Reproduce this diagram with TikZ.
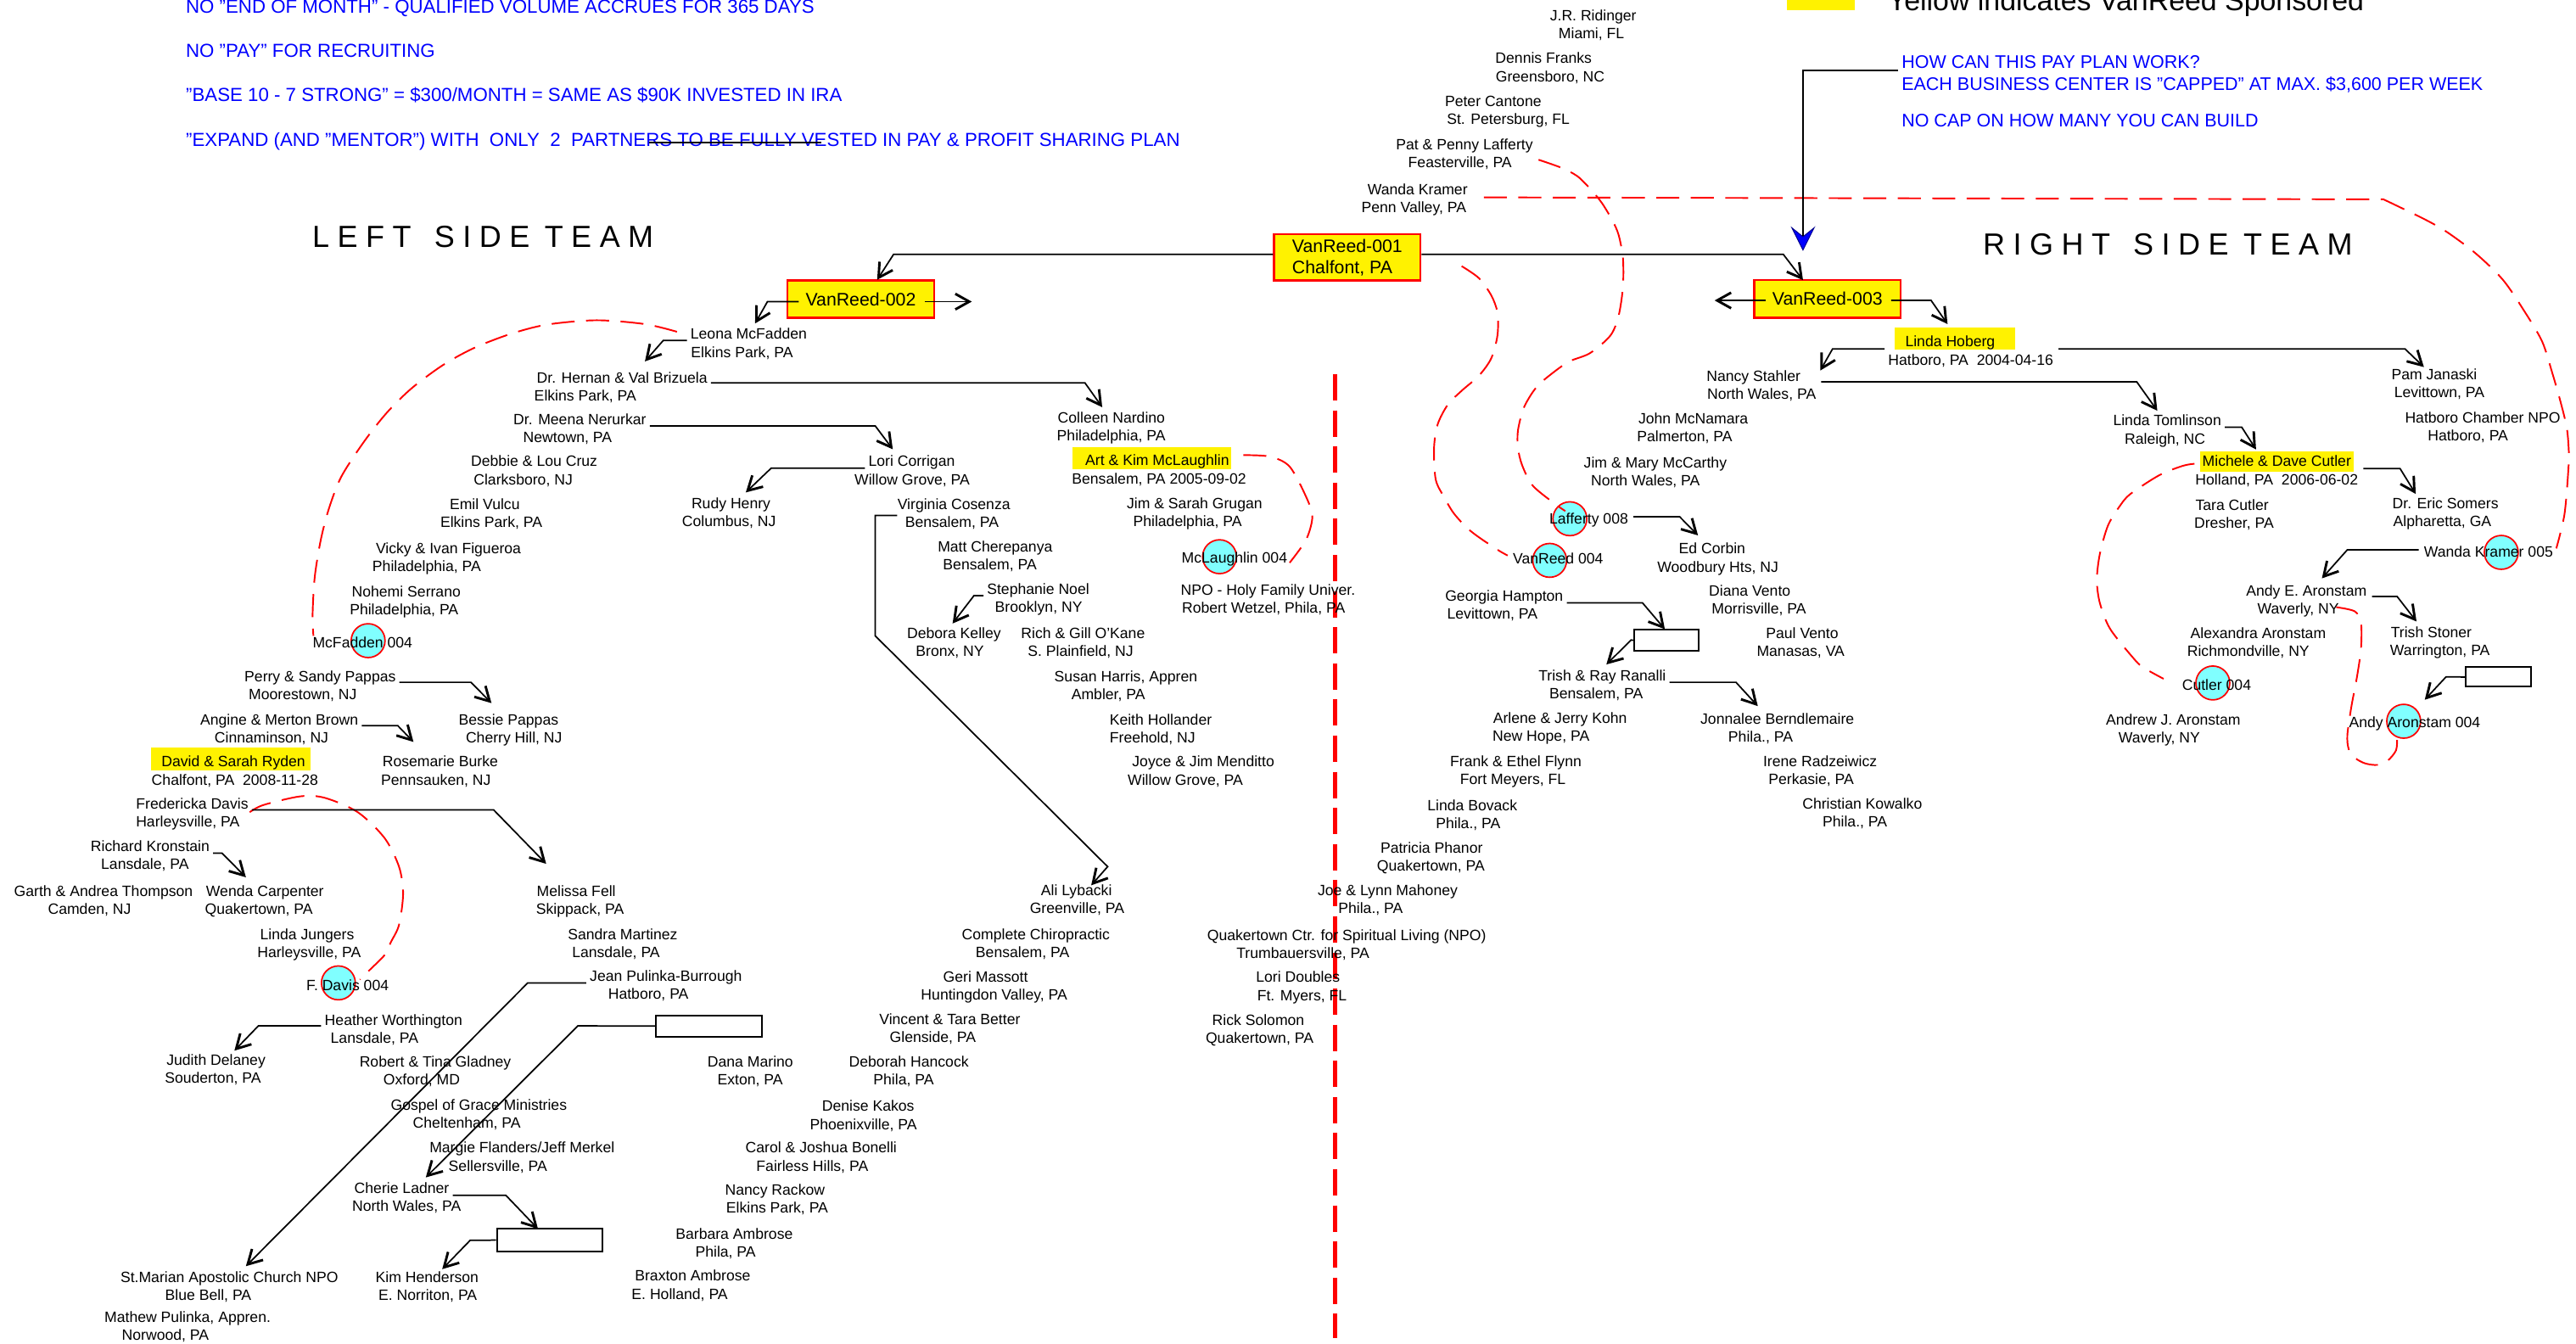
\documentclass[tikz,border=0pt]{standalone}
\usepackage{fontspec}
\setmainfont{Liberation Sans}
\usetikzlibrary{arrows.meta,calc}
\definecolor{cy}{RGB}{128,255,255}
\pgfmathdeclarefunction{yc}{1}{%
  \begingroup
  \pgfmathparse{(#1<272.7) ? (#1*1.01386) : ((#1<543.9) ? (#1+(#1-272.7)*0.01386) : (#1+(#1-543.9)*0.01386))}%
  \pgfmathsmuggle\pgfmathresult
  \endgroup}
\newcommand\persn[6]{\node[txt] (#1) at (#2,{yc(#4)}) {#5};\node[txt] (#1b) at (#3,{yc(#4)+10.95}) {#6};}
\newcommand\tsp{\kern4.9pt}
\begin{document}
\begin{tikzpicture}[x=1pt,y=-1pt,
 txt/.style={anchor=base, inner sep=0pt, font=\fontsize{9.1}{10}\selectfont},
 blu/.style={anchor=base west, inner sep=0pt, text=blue, font=\fontsize{11.5}{12}\selectfont},
 bluR/.style={anchor=base west, inner sep=0pt, text=blue, font=\fontsize{11.1}{12}\selectfont},
 ttl/.style={anchor=base west, inner sep=0pt, font=\fontsize{18.6}{20}\selectfont},
 arr/.style={line width=0.9pt, -{Straight Barb[length=8.5pt,width=9.5pt,line width=1.5pt]}},
 barr/.style={line width=0.9pt, -{Stealth[length=15pt,width=15pt,inset=6pt,fill=blue,color=blue!55!black,line width=0.5pt]}},
 rdash/.style={red, line width=1pt, dash pattern=on 14pt off 7pt},
 vrbox/.style={draw=red, fill=yellow, line width=1.2pt, inner sep=0pt, font=\fontsize{11}{13.1}\selectfont},
 ebox/.style={draw, line width=1pt, inner sep=0pt, fill=white},
 dot/.style={circle, draw=red, fill=cy, line width=0.9pt, minimum size=20.6pt, inner sep=0pt}]
\useasboundingbox (0,0) rectangle (1568.2,817.7);

% ---------- highlights ----------
\fill[yellow] (92.1,{yc(452.6)}) rectangle (189.3,{yc(466.4)});
\fill[yellow] (653,{yc(268.6)}) rectangle (749.4,{yc(285.6)});
\fill[yellow] (1153.2,{yc(196.8)}) rectangle (1227,{yc(210.1)});
\fill[yellow] (1339.1,{yc(274.8)}) rectangle (1432.8,{yc(287)});
\fill[yellow] (1088,-5) rectangle (1129,{yc(6)});

% ---------- circles ----------
\node[dot] (cmcf) at (224.1,{yc(388.4)}) {};
\node[dot] (cdavis) at (206,{yc(597.6)}) {};
\node[dot] (cmcl) at (742.4,{yc(338)}) {};
\node[dot] (claf) at (955.7,{yc(315.2)}) {};
\node[dot] (cvr) at (943.4,{yc(340.2)}) {};
\node[dot] (ckr) at (1522.7,{yc(335.4)}) {};
\node[dot] (ccut) at (1347.1,{yc(413.8)}) {};
\node[dot] (caron) at (1463.3,{yc(436.8)}) {};

% ---------- red dashed lines ----------
\draw[red, line width=2.5pt, dash pattern=on 16pt off 6pt] (812.6,{yc(224.7)}) -- (812.6,{yc(811)});
\draw[rdash] plot[smooth] coordinates {(412.1,{yc(199.2)}) (392.6,{yc(194.6)}) (363.1,{yc(192.3)}) (333,{yc(194.9)}) (310.5,{yc(200.6)}) (288,{yc(209.2)}) (269.2,{yc(219.5)}) (250.4,{yc(233.3)}) (235.4,{yc(247.9)}) (221.6,{yc(265.2)}) (207.8,{yc(289.9)}) (200.3,{yc(308.9)}) (195.3,{yc(327.8)}) (191.6,{yc(350.2)}) (190.3,{yc(372.6)}) (190.8,{yc(385.5)})};
\draw[rdash] plot[smooth] coordinates {(152,{yc(491.4)}) (160.3,{yc(487.1)}) (182.8,{yc(481.9)}) (197.8,{yc(482.8)}) (217.8,{yc(491.4)}) (234.1,{yc(506.9)}) (242.9,{yc(524.1)}) (245.4,{yc(543.9)}) (242.9,{yc(562.8)}) (237.9,{yc(573.2)}) (234.1,{yc(580.9)}) (225.4,{yc(589.5)}) (219.1,{yc(595.6)})};
\draw[rdash] plot[smooth] coordinates {(756.9,{yc(277)}) (773.2,{yc(277.9)}) (785.1,{yc(283.9)}) (795.1,{yc(302)}) (798.9,{yc(314)}) (795.1,{yc(327.8)}) (785.1,{yc(341.6)})};
\draw[rdash] (903.3,{yc(118.5)}) -- (1451,{yc(119.7)}) plot[smooth] coordinates {(1451,{yc(119.7)}) (1476.1,{yc(131.7)}) (1489.9,{yc(139.5)}) (1507.4,{yc(152.4)}) (1523.6,{yc(167.9)}) (1536.2,{yc(186)}) (1547.5,{yc(204.9)}) (1553.7,{yc(223.8)}) (1558.7,{yc(241)}) (1562.5,{yc(256.5)}) (1563.7,{yc(272.7)}) (1563.7,{yc(283)}) (1561.2,{yc(312.3)}) (1556.2,{yc(333)})};
\draw[rdash] plot[smooth] coordinates {(936.6,{yc(95.9)}) (950.4,{yc(100.7)}) (960.4,{yc(105.9)}) (969.1,{yc(114.5)}) (975.4,{yc(122.2)}) (981.7,{yc(132.6)}) (985.4,{yc(141.2)}) (988,{yc(155)}) (988,{yc(172.2)}) (985.4,{yc(189.4)}) (980.4,{yc(201.4)}) (968,{yc(212)}) (955.4,{yc(217)}) (945.4,{yc(223.8)}) (935.4,{yc(232.4)}) (927.8,{yc(244.5)}) (924.1,{yc(258.3)}) (924.1,{yc(272.7)}) (926.6,{yc(283)}) (932.9,{yc(295.1)}) (945.4,{yc(305.4)}) (952.9,{yc(310.6)})};
\draw[rdash] plot[smooth] coordinates {(889.8,{yc(159.8)}) (900.3,{yc(167)}) (907.8,{yc(177.3)}) (911.6,{yc(187.7)}) (911.6,{yc(201.4)}) (907.8,{yc(215.2)}) (900.3,{yc(225.6)}) (890.3,{yc(234.2)}) (881.5,{yc(242.8)}) (875.2,{yc(254.8)}) (873,{yc(272.7)}) (874,{yc(291.6)}) (879,{yc(302)}) (885.3,{yc(312.3)}) (895.3,{yc(322.6)}) (910.3,{yc(333)}) (917.8,{yc(337.3)})};
\draw[rdash] plot[smooth] coordinates {(1335.9,{yc(282.2)}) (1328.9,{yc(283.4)}) (1314.6,{yc(289)}) (1297.1,{yc(300.2)}) (1290.8,{yc(307.1)}) (1283.3,{yc(319.2)}) (1278.3,{yc(336.4)}) (1276.5,{yc(351.9)}) (1278.3,{yc(365.7)}) (1284.5,{yc(381.2)}) (1298.3,{yc(398.4)}) (1304.6,{yc(404.4)}) (1317.1,{yc(411.3)})};
\draw[rdash] plot[smooth] coordinates {(1422.2,{yc(368.3)}) (1433.5,{yc(370.8)}) (1437.3,{yc(377.7)}) (1437.3,{yc(393.2)}) (1434.8,{yc(410.4)}) (1431.5,{yc(427.7)}) (1429,{yc(444.9)}) (1429.8,{yc(453.5)}) (1433.5,{yc(458.7)}) (1439.8,{yc(462.1)}) (1447.3,{yc(463)}) (1453.6,{yc(460.4)}) (1458.6,{yc(454.3)}) (1459.3,{yc(447.5)})};

% ---------- header texts ----------
\node[blu] (b1) at (113,{yc(7.9)}) {NO "END OF MONTH" - QUALIFIED VOLUME ACCRUES FOR 365 DAYS};
\node[blu] (b2) at (113,{yc(34.4)}) {NO "PAY" FOR RECRUITING};
\node[blu] (b3) at (113,{yc(61)}) {"BASE 10 - 7 STRONG" = \$300/MONTH = SAME AS \$90K INVESTED IN IRA};
\node[blu] (b4) at (113,{yc(87.8)}) {"EXPAND (AND "MENTOR") WITH~ ONLY~ 2~ PARTNERS TO BE FULLY VESTED IN PAY \& PROFIT SHARING PLAN};
\draw[line width=0.9pt] (395,{yc(85.6)}) -- (500,{yc(85.6)});
\node[bluR] (how) at (1157.5,{yc(40.8)}) {HOW CAN THIS PAY PLAN WORK?};
\node[bluR] (cap) at (1157.5,{yc(54.2)}) {EACH BUSINESS CENTER IS "CAPPED" AT MAX. \$3,600 PER WEEK};
\node[bluR] (nocap) at (1157.5,{yc(76.3)}) {NO CAP ON HOW MANY YOU CAN BUILD};
\node[anchor=base west, inner sep=0pt, font=\fontsize{17.5}{19}\selectfont] (legend) at (1149,{yc(6.5)}) {Yellow indicates VanReed Sponsored};
\node[ttl] (lefttitle) at (190,{yc(148.4)}) {L\tsp E\tsp F\tsp T\kern14pt S\tsp I\tsp D\tsp E\kern9pt T\tsp E\tsp A\tsp M};
\node[ttl] (righttitle) at (1207,{yc(152.9)}) {R\tsp I\tsp G\tsp H\tsp T\kern14pt S\tsp I\tsp D\tsp E\kern9pt T\tsp E\tsp A\tsp M};

% ---------- main boxes ----------
\node[vrbox, minimum width=89.2pt, minimum height=28.1pt, align=left] (vr1) at (820.2,{yc(154.55)}) {VanReed-001\\Chalfont, PA};
\node[vrbox, minimum width=89.2pt, minimum height=22.7pt] (vr2) at (524,{yc(179.6)}) {VanReed-002};
\node[vrbox, minimum width=89pt, minimum height=22.9pt] (vr3) at (1112.5,{yc(179.5)}) {VanReed-003};

% ---------- empty boxes ----------
\node[ebox, minimum width=39.5pt, minimum height=12.6pt] (box1) at (1014.45,{yc(388.2)}) {};
\node[ebox, minimum width=64.3pt, minimum height=13.7pt] (box2) at (334.65,{yc(752.05)}) {};
\node[ebox, minimum width=64.6pt, minimum height=13.1pt] (box3) at (431.7,{yc(623.55)}) {};
\node[ebox, minimum width=39.6pt, minimum height=11.9pt] (box4) at (1520.9,{yc(410.25)}) {};

% ---------- people ----------
\persn{leona}{455.8}{451.7}{203.7}{Leona McFadden}{Elkins Park, PA}
\persn{hernan}{378.7}{356.3}{230}{Dr. Hernan \& Val Brizuela}{Elkins Park, PA}
\persn{meena}{353}{345.5}{254.8}{Dr. Meena Nerurkar}{Newtown, PA}
\persn{debbie}{325.2}{318.5}{283.9}{Debbie \& Lou Cruz}{Clarksboro, NJ}
\persn{emil}{295.1}{299.1}{309.7}{Emil Vulcu}{Elkins Park, PA}
\persn{vicky}{273}{259.8}{336}{Vicky \& Ivan Figueroa}{Philadelphia, PA}
\persn{nohemi}{247.3}{246}{361.9}{Nohemi Serrano}{Philadelphia, PA}
\persn{perry}{194.9}{184.3}{413}{Perry \& Sandy Pappas}{Moorestown, NJ}
\persn{bessie}{309.6}{312.9}{438.9}{Bessie Pappas}{Cherry Hill, NJ}
\persn{angine}{170}{165.3}{438.9}{Angine \& Merton Brown}{Cinnaminson, NJ}
\persn{rosemarie}{268}{265.4}{464.2}{Rosemarie Burke}{Pennsauken, NJ}
\persn{ryden}{142.1}{143}{464.2}{David \& Sarah Ryden}{Chalfont, PA~ 2008-11-28}
\persn{fredericka}{117}{114.3}{489.3}{Fredericka Davis}{Harleysville, PA}
\persn{richard}{91.4}{88.3}{515.1}{Richard Kronstain}{Lansdale, PA}
\persn{garth}{63}{54.5}{545.5}{Garth \& Andrea Thompson}{Camden, NJ}
\persn{wenda}{161.3}{157.6}{545.5}{Wenda Carpenter}{Quakertown, PA}
\persn{melissa}{350.8}{353.1}{545.5}{Melissa Fell}{Skippack, PA}
\persn{jungers}{187}{188.2}{571.5}{Linda Jungers}{Harleysville, PA}
\persn{heather}{239.6}{228}{623.1}{Heather Worthington}{Lansdale, PA}
\persn{judith}{131.5}{129.6}{647.2}{Judith Delaney}{Souderton, PA}
\persn{gladney}{265}{256.7}{648.1}{Robert \& Tina Gladney}{Oxford, MD}
\persn{gospel}{291.5}{284.2}{674.2}{Gospel of Grace Ministries}{Cheltenham, PA}
\persn{margie}{317.8}{303.1}{699.7}{Margie Flanders/Jeff Merkel}{Sellersville, PA}
\persn{cherie}{244.6}{247.5}{723.8}{Cherie Ladner}{North Wales, PA}
\persn{kim}{260}{260.4}{777.5}{Kim Henderson}{E. Norriton, PA}
\persn{marian}{139.6}{126.8}{777.5}{St.Marian Apostolic Church NPO}{Blue Bell, PA}
\persn{mathew}{114.2}{100.7}{801.3}{Mathew Pulinka, Appren.}{Norwood, PA}
\persn{sandra}{379.1}{375}{571.5}{Sandra Martinez}{Lansdale, PA}
\persn{jean}{405.4}{394.7}{596.4}{Jean Pulinka-Burrough}{Hatboro, PA}
\persn{loric}{555}{555.3}{283.9}{Lori Corrigan}{Willow Grove, PA}
\persn{rudy}{445}{443.8}{308.9}{Rudy Henry}{Columbus, NJ}
\persn{virginia}{580.7}{579.5}{309.7}{Virginia Cosenza}{Bensalem, PA}
\persn{matt}{605.8}{602.6}{335}{Matt Cherepanya}{Bensalem, PA}
\persn{stephanie}{632}{632.3}{360.5}{Stephanie Noel}{Brooklyn, NY}
\persn{debora}{580.8}{578.3}{387.2}{Debora Kelley}{Bronx, NY}
\persn{okane}{659.3}{657.8}{387.2}{Rich \& Gill O'Kane}{S. Plainfield, NJ}
\persn{susan}{685.4}{674.7}{413}{Susan Harris, Appren}{Ambler, PA}
\persn{keith}{706.6}{701.6}{438.9}{Keith Hollander}{Freehold, NJ}
\persn{joyce}{732.5}{721.6}{464.2}{Joyce \& Jim Menditto}{Willow Grove, PA}
\persn{colleen}{676.6}{676.5}{254}{Colleen Nardino}{Philadelphia, PA}
\persn{artkim}{704.5}{705.6}{283.4}{Art \& Kim McLaughlin}{Bensalem, PA 2005-09-02}
\persn{grugan}{727.2}{722.9}{309.2}{Jim \& Sarah Grugan}{Philadelphia, PA}
\persn{npo}{771.9}{769.2}{360.9}{NPO - Holy Family Univer.}{Robert Wetzel, Phila, PA}
\persn{ali}{655.3}{655.7}{545.3}{Ali Lybacki}{Greenville, PA}
\persn{chiro}{630.6}{622.5}{571.5}{Complete Chiropractic}{Bensalem, PA}
\persn{geri}{600}{605.2}{596.9}{Geri Massott}{Huntingdon Valley, PA}
\persn{vincent}{578.2}{567.9}{622.6}{Vincent \& Tara Better}{Glenside, PA}
\persn{dana}{456.8}{456.7}{648.1}{Dana Marino}{Exton, PA}
\persn{deborah}{553.3}{550.1}{648.1}{Deborah Hancock}{Phila, PA}
\persn{denise}{528.5}{525.6}{674.8}{Denise Kakos}{Phoenixville, PA}
\persn{carol}{499.9}{494.5}{699.7}{Carol \& Joshua Bonelli}{Fairless Hills, PA}
\persn{nancyr}{471.8}{473.1}{725}{Nancy Rackow}{Elkins Park, PA}
\persn{barbara}{447}{441.7}{751.4}{Barbara Ambrose}{Phila, PA}
\persn{braxton}{421.7}{413.8}{776.7}{Braxton Ambrose}{E. Holland, PA}
\persn{qctr}{819.8}{793.2}{572.3}{Quakertown Ctr. for Spiritual Living (NPO)}{Trumbauersville, PA}
\persn{lorid}{790.2}{792.6}{597.3}{Lori Doubles}{Ft. Myers, FL}
\persn{rick}{766}{766.8}{623.1}{Rick Solomon}{Quakertown, PA}
\persn{joe}{844.8}{834.4}{545.3}{Joe \& Lynn Mahoney}{Phila., PA}
\persn{patricia}{871.5}{871.1}{515.8}{Patricia Phanor}{Quakertown, PA}
\persn{lindab}{896.3}{893.8}{490.5}{Linda Bovack}{Phila., PA}
\persn{frank}{922.8}{921}{463.8}{Frank \& Ethel Flynn}{Fort Meyers, FL}
\persn{arlene}{949.7}{938.1}{438}{Arlene \& Jerry Kohn}{New Hope, PA}
\persn{trishr}{975.4}{971.7}{412.5}{Trish \& Ray Ranalli}{Bensalem, PA}
\persn{georgia}{915.7}{908.5}{364.8}{Georgia Hampton}{Levittown, PA}
\persn{ed}{1042.3}{1045.8}{336.4}{Ed Corbin}{Woodbury Hts, NJ}
\persn{diana}{1065.2}{1070.8}{361.4}{Diana Vento}{Morrisville, PA}
\persn{paul}{1097.1}{1096.2}{387.2}{Paul Vento}{Manasas, VA}
\persn{jonnalee}{1082}{1071.8}{438.3}{Jonnalee Berndlemaire}{Phila., PA}
\persn{irene}{1108}{1102.6}{463.8}{Irene Radzeiwicz}{Perkasie, PA}
\persn{christian}{1133.7}{1129.2}{489.3}{Christian Kowalko}{Phila., PA}
\persn{mccarthy}{1007.7}{1001.7}{284.8}{Jim \& Mary McCarthy}{North Wales, PA}
\persn{mcnamara}{1030.8}{1025.6}{254.5}{John McNamara}{Palmerton, PA}
\persn{nancys}{1067.5}{1072.4}{229}{Nancy Stahler}{North Wales, PA}
\persn{hoberg}{1187.2}{1199.7}{208.3}{Linda Hoberg}{Hatboro, PA~ 2004-04-16}
\persn{pam}{1481.9}{1485}{228.1}{Pam Janaski}{Levittown, PA}
\persn{hatnpo}{1511.4}{1502.4}{254}{Hatboro Chamber NPO}{Hatboro, PA}
\persn{tomlinson}{1319.3}{1318}{255.7}{Linda Tomlinson}{Raleigh, NC}
\persn{cutler}{1386}{1386}{283.9}{Michele \& Dave Cutler}{Holland, PA~ 2006-06-02}
\persn{tara}{1358.8}{1360}{310.2}{Tara Cutler}{Dresher, PA}
\persn{somers}{1488.7}{1486.8}{309.2}{Dr. Eric Somers}{Alpharetta, GA}
\persn{andye}{1404.1}{1399.1}{361.4}{Andy E. Aronstam}{Waverly, NY}
\persn{trishs}{1480.1}{1485.4}{386.7}{Trish Stoner}{Warrington, PA}
\persn{alexandra}{1374.7}{1368.7}{387.2}{Alexandra Aronstam}{Richmondville, NY}
\persn{andrew}{1323}{1314.5}{438.9}{Andrew J. Aronstam}{Waverly, NY}
\persn{ridinger}{969.9}{968.8}{12.4}{J.R. Ridinger}{Miami, FL}
\persn{franks}{939.7}{943.7}{38.2}{Dennis Franks}{Greensboro, NC}
\persn{cantone}{909}{918.2}{64}{Peter Cantone}{St. Petersburg, FL}
\persn{lafferty}{891.5}{888.8}{89.9}{Pat \& Penny Lafferty}{Feasterville, PA}
\persn{kramer}{863}{860.7}{116.7}{Wanda Kramer}{Penn Valley, PA}

% circle labels
\node[txt] (lmcf) at (220.7,{yc(392.7)}) {McFadden 004};
\node[txt] (ldavis) at (211.6,{yc(602.1)}) {F. Davis 004};
\node[txt] (lmcl) at (751.5,{yc(341.6)}) {McLaughlin 004};
\node[txt] (laf8) at (967.2,{yc(318.3)}) {Lafferty 008};
\node[txt] (lvr4) at (948.5,{yc(342.4)}) {VanReed 004};
\node[txt] (lkr5) at (1514.9,{yc(338.1)}) {Wanda Kramer 005};
\node[txt] (lcut4) at (1349.4,{yc(418.2)}) {Cutler 004};
\node[txt] (laron4) at (1470,{yc(440.6)}) {Andy Aronstam 004};

% ---------- connectors ----------
\draw[arr] (vr1.west |- 0,{yc(152.7)}) -- (544,{yc(152.7)}) -- (534,{yc(168)});
\draw[arr] (vr1.east |- 0,{yc(152.7)}) -- (1085.6,{yc(152.7)}) -- (1097.6,{yc(168.2)});
\draw[arr] ($(vr2.west |- 0,{yc(181.1)})+(7.4,0)$) -- (467.2,{yc(181.1)}) -- (459.7,{yc(194.2)});
\draw[arr] ($(vr2.east |- 0,{yc(181.1)})+(-6.2,0)$) -- (591.6,{yc(181.1)});
\draw[arr] ($(vr3.west |- 0,{yc(180.4)})+(7.6,0)$) -- (1043.8,{yc(180.4)});
\draw[arr] ($(vr3.east |- 0,{yc(180.4)})+(-6.3,0)$) -- (1175.6,{yc(180.4)}) -- (1185.6,{yc(194.6)});
\draw[barr] ($(how.west |- 0,{yc(42.2)})+(-2,0)$) -- (1097.6,{yc(42.2)}) -- (1097.6,{yc(150.7)});

\draw[arr] ($(leona.west |- 0,{yc(204.4)})+(-2,0)$) -- (403.8,{yc(204.4)}) -- (392.6,{yc(217)});
\draw[arr] ($(hernan.east |- 0,{yc(229.9)})+(2,0)$) -- (660.5,{yc(229.9)}) -- (671,{yc(244.5)});
\draw[arr] ($(meena.east |- 0,{yc(255.7)})+(2,0)$) -- (532.8,{yc(255.7)}) -- (543.5,{yc(273.5)});
\draw[arr] ($(loric.west |- 0,{yc(284.8)})+(-2,0)$) -- (469.5,{yc(284.8)}) -- (454,{yc(299.4)});
\draw[arr] (virginia.west |- 0,{yc(313.2)}) -- (532.8,{yc(313.2)}) -- (532.8,{yc(385.5)}) -- (674.3,{yc(524.1)}) -- (664.3,{yc(535.3)});
\draw[arr] ($(stephanie.west |- 0,{yc(361.4)})+(-2,0)$) -- (592.9,{yc(361.4)}) -- (579.9,{yc(378.1)});
\draw[arr] ($(perry.east |- 0,{yc(413.4)})+(2,0)$) -- (286.7,{yc(413.4)}) -- (299.2,{yc(425.9)});
\draw[arr] ($(angine.east |- 0,{yc(439.4)})+(2,0)$) -- (242.1,{yc(439.4)}) -- (251.7,{yc(449.2)});
\draw[arr] ($(fredericka.east |- 0,{yc(490)})+(2,0)$) -- (300.5,{yc(490)}) -- (332.5,{yc(522.4)});
\draw[arr] ($(richard.east |- 0,{yc(516)})+(2,0)$) -- (135.2,{yc(516)}) -- (149.7,{yc(530.5)});
\draw[arr] ($(heather.west |- 0,{yc(623.4)})+(-2,0)$) -- (157.3,{yc(623.4)}) -- (142.7,{yc(638.3)});
\draw[arr] ($(jean.west |- 0,{yc(597.6)})+(-2,0)$) -- (321.3,{yc(597.6)}) -- (149.7,{yc(767.7)});
\draw[arr] (box3.west) -- (351.8,{yc(623.4)}) -- (259.2,{yc(714.4)});
\draw[arr] ($(cherie.east |- 0,{yc(725.2)})+(2,0)$) -- (308,{yc(725.2)}) -- (327.5,{yc(745.3)});
\draw[arr] (box2.west) -- (286.2,{yc(752.2)}) -- (269.2,{yc(769.5)});
\draw[arr] ($(georgia.east |- 0,{yc(365.7)})+(2,0)$) -- (999.9,{yc(365.7)}) -- (1013.5,{yc(381.5)});
\draw[arr] (box1.west) -- (993,{yc(388)}) -- (977.9,{yc(402.7)});
\draw[arr] ($(trishr.east |- 0,{yc(413.4)})+(2,0)$) -- (1056.8,{yc(413.4)}) -- (1070.1,{yc(427.7)});
\draw[arr] ($(laf8.east |- 0,{yc(314)})+(3,0)$) -- (1022.5,{yc(314)}) -- (1033.7,{yc(325.2)});
\draw[arr] ($(hobergb.west |- 0,{yc(209.5)})+(-2,0)$) -- (1115.6,{yc(209.5)}) -- (1108.1,{yc(222.5)});
\draw[arr] ($(hobergb.east |- 0,{yc(209.5)})+(3,0)$) -- (1464.1,{yc(209.5)}) -- (1475.6,{yc(220.4)});
\draw[arr] ($(nancysb.east |- 0,{yc(229.3)})+(3,0)$) -- (1300.8,{yc(229.3)}) -- (1313.3,{yc(246.6)});
\draw[arr] ($(tomlinson.east |- 0,{yc(256.5)})+(2,0)$) -- (1364.7,{yc(256.5)}) -- (1373.4,{yc(273.6)});
\draw[arr] ($(cutlerb.east |- 0,{yc(285.1)})+(3,0)$) -- (1461.1,{yc(285.1)}) -- (1470.6,{yc(300.3)});
\draw[arr] ($(lkr5.west |- 0,{yc(333.8)})+(-3,0)$) -- (1429,{yc(333.8)}) -- (1413.5,{yc(351)});
\draw[arr] ($(andye.east |- 0,{yc(361.9)})+(3,0)$) -- (1459.3,{yc(361.9)}) -- (1471.1,{yc(376.9)});
\draw[arr] (box4.west) -- (1489.1,{yc(410.1)}) -- (1476.1,{yc(423.9)});
\end{tikzpicture}
\end{document}
